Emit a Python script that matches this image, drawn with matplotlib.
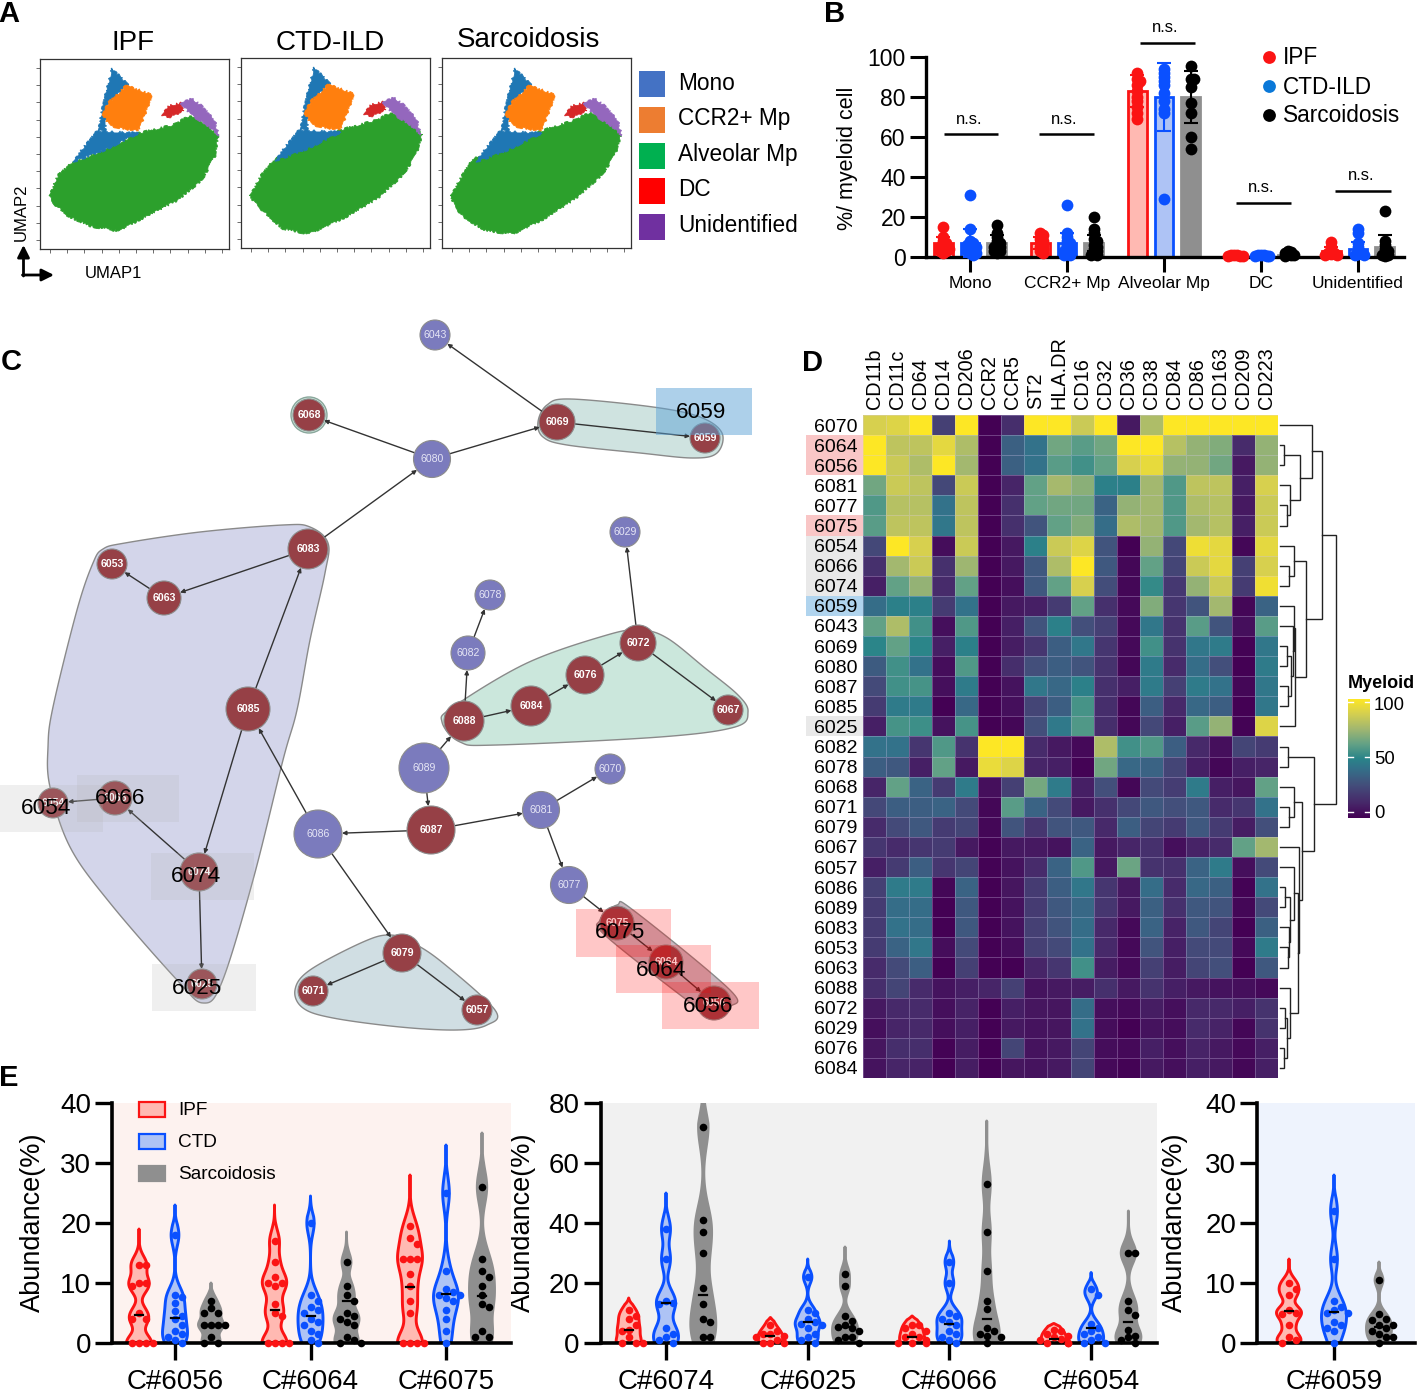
import numpy as np
import matplotlib
matplotlib.use("Agg")
import matplotlib.pyplot as plt
from matplotlib.colors import LinearSegmentedColormap
from matplotlib.patches import Polygon, Rectangle, Circle

plt.rcParams['font.family'] = ['Liberation Sans', 'DejaVu Sans']
W, H = 1418, 1395
fig = plt.figure(figsize=(W / 100, H / 100), dpi=100, facecolor='white')


def px_axes(x0, y0, x1, y1, **kw):
    return fig.add_axes([x0 / W, 1 - y1 / H, (x1 - x0) / W, (y1 - y0) / H], **kw)


# ---------------------------------------------------------------- data: panel A
umap_titles = ['IPF', 'CTD-ILD', 'Sarcoidosis']
umap_green = [
    [(9, 137), (18, 116), (33, 103), (65, 91), (99, 74), (133, 66), (151, 56), (167, 66), (178, 77), (175, 97),
     (162, 121), (138, 141), (107, 157), (78, 172), (49, 167), (28, 157), (13, 144)],
    [(9, 137), (21, 116), (34, 101), (68, 87), (99, 72), (136, 62), (151, 54), (170, 64), (181, 77), (175, 97),
     (162, 117), (136, 141), (105, 159), (68, 176), (42, 171), (26, 157), (13, 144)],
    [(9, 137), (21, 116), (31, 101), (65, 87), (102, 72), (133, 62), (149, 54), (170, 64), (179, 77), (173, 97),
     (160, 117), (133, 141), (102, 161), (71, 176), (44, 173), (21, 159), (12, 147)],
]
umap_mono_low = [(33, 103), (39, 94), (57, 72), (99, 74), (65, 91)]
umap_mono_up = [(58, 72), (63, 46), (72, 9), (88, 26), (68, 44), (65, 72)]
umap_ccr2 = [(87, 26), (112, 36), (101, 67), (97, 72), (70, 67), (63, 56), (68, 44)]
umap_dc = [(122, 56), (128, 47), (141, 44), (143, 52), (128, 59)]
umap_unid = [(141, 44), (151, 39), (162, 47), (175, 62), (179, 77), (167, 66), (151, 56)]
umap_legend = ['Mono', 'CCR2+ Mp', 'Alveolar Mp', 'DC', 'Unidentified']
umap_legend_cols = ['#4472c4', '#ed7d31', '#00b050', '#ff0000', '#7030a0']

# ---------------------------------------------------------------- data: panel B
b_cats = ['Mono', 'CCR2+ Mp', 'Alveolar Mp', 'DC', 'Unidentified']
b_series = ['IPF', 'CTD-ILD', 'Sarcoidosis']
b_means = [[7, 7, 83, 1, 3], [7, 7, 80, 1, 4], [7, 7, 80, 1, 5]]
b_errs = [[3, 3, 8, .3, 2], [7, 5, 17, .3, 3.5], [4, 4, 13, .6, 6]]
b_pts_ipf = [[15, 10, 8, 7, 6, 5, 5, 4, 4, 3, 3, 2], [12, 11, 9, 8, 7, 6, 5, 4, 3, 2],
             [92, 89, 88, 86, 83, 80, 78, 75, 72, 69], [1, 1, .8, .7, .5, .5], [7.5, 5, 3, 2, 2, 1.5, 1, 1]]
b_pts_ctd = [[31, 14, 8, 7, 6, 6, 5, 5, 4, 3, 3, 2, 2, 1], [26, 12, 10, 8, 7, 6, 5, 4, 3, 3, 2, 1, 1],
             [94, 92, 90, 88, 86, 82, 78, 74, 72, 29], [1, 1, .8, .6, .5, .4], [14, 12, 7, 5, 3, 2, 1.5, 1, 1]]
b_pts_sar = [[16, 12, 10, 8, 7, 6, 5, 5, 4, 3, 3, 2], [20, 14, 12, 9, 8, 6, 5, 4, 3, 2, 1, 1],
             [95.5, 89, 89, 85, 77, 72, 60, 54], [3, 2.5, 2, 1.5, 1, .8, .5], [23, 8, 6, 4, 3, 2, 1, 1, .5]]

# ---------------------------------------------------------------- data: panel C
node_ids = ['6043', '6068', '6069', '6059', '6080', '6083', '6053', '6063', '6029', '6078', '6082', '6072', '6076',
            '6084', '6067', '6088', '6085', '6089', '6070', '6081', '6087', '6086', '6066', '6054', '6074', '6077',
            '6079', '6075', '6064', '6056', '6071', '6057', '6025']
node_x = [435, 309, 557, 705, 432, 308, 112, 164, 625, 490, 468, 638, 585, 531, 728, 464, 248, 424, 610, 541, 431, 318,
          115, 53, 199, 569, 402, 617, 666, 714, 313, 477, 202]
node_y = [335, 415, 422, 438, 459, 549, 564, 598, 532, 595, 653, 643, 675, 706, 710, 721, 709, 768, 769, 810, 830, 834,
          798, 803, 872, 885, 953, 923, 962, 1003, 991, 1010, 984]
node_r = [15, 16, 18, 15, 18.5, 20, 15, 17, 15, 15, 17, 18, 19, 20, 15, 20, 22, 25, 15, 18.5, 24, 24, 17, 15, 19, 18.5,
          19, 17, 17, 17, 15, 15, 15]
blue_nodes = ['6043', '6080', '6029', '6078', '6082', '6089', '6070', '6081', '6086', '6077']
edges = [('6069', '6043'), ('6080', '6068'), ('6080', '6069'), ('6069', '6059'), ('6083', '6080'), ('6063', '6053'),
         ('6083', '6063'), ('6085', '6083'), ('6085', '6074'), ('6074', '6066'), ('6066', '6054'), ('6074', '6025'),
         ('6086', '6085'), ('6087', '6086'), ('6089', '6087'), ('6089', '6088'), ('6087', '6081'), ('6081', '6070'),
         ('6081', '6077'), ('6077', '6075'), ('6075', '6064'), ('6064', '6056'), ('6086', '6079'), ('6079', '6071'),
         ('6079', '6057'), ('6088', '6082'), ('6082', '6078'), ('6088', '6084'), ('6084', '6076'), ('6076', '6072'),
         ('6072', '6029'), ('6072', '6067')]
hull_purple = [(93, 563), (103, 549), (125, 543), (200, 532), (283, 525), (310, 527), (328, 543), (325, 573),
               (310, 640), (297, 710), (283, 760), (253, 880), (222, 982), (203, 1003), (177, 980), (110, 903),
               (70, 847), (50, 787), (48, 747), (53, 707), (77, 610)]
hull_teal = [(538, 422), (547, 405), (570, 399), (653, 407), (700, 417), (722, 433), (717, 453), (693, 458),
             (640, 453), (567, 445), (543, 437)]
hull_green = [(453, 707), (527, 663), (607, 635), (640, 630), (667, 638), (705, 668), (738, 695), (748, 712),
              (735, 727), (660, 737), (497, 745), (460, 742), (442, 722)]
hull_slate = [(295, 990), (310, 970), (363, 942), (390, 935), (413, 943), (443, 963), (495, 1010), (487, 1025),
              (457, 1030), (400, 1027), (333, 1018), (303, 1008)]
hull_red = [(600, 920), (617, 905), (633, 910), (730, 990), (730, 1007), (715, 1018), (700, 1010), (607, 937)]
hi_labels = ['6059', '6075', '6064', '6056', '6054', '6066', '6074', '6025']
hi_kind = ['b', 'r', 'r', 'r', 'g', 'g', 'g', 'g']
hi_boxes = [(656, 388, 752, 435), (576, 909, 671, 957), (616, 945, 711, 993), (662, 982, 759, 1029),
            (0, 785, 103, 832), (77, 775, 179, 822), (151, 853, 254, 900), (152, 964, 256, 1011)]
hi_text_xy = [(701, 412), (620, 933), (661, 970), (708, 1006), (46, 809), (120, 799), (196, 877), (197, 988)]

# ---------------------------------------------------------------- data: panel D
markers = ['CD11b', 'CD11c', 'CD64', 'CD14', 'CD206', 'CCR2', 'CCR5', 'ST2', 'HLA.DR', 'CD16', 'CD32', 'CD36', 'CD38',
           'CD84', 'CD86', 'CD163', 'CD209', 'CD223']
clusters = ['6070', '6064', '6056', '6081', '6077', '6075', '6054', '6066', '6074', '6059', '6043', '6069', '6080',
            '6087', '6085', '6025', '6082', '6078', '6068', '6071', '6079', '6067', '6057', '6086', '6089', '6083',
            '6053', '6063', '6088', '6072', '6029', '6076', '6084']
heat = [
    [88, 90, 100, 22, 100, 0, 15, 100, 100, 85, 100, 8, 78, 100, 100, 100, 100, 100],
    [100, 82, 82, 92, 78, 0, 35, 42, 65, 60, 65, 100, 100, 80, 72, 68, 14, 72],
    [100, 85, 78, 100, 75, 0, 35, 42, 60, 55, 62, 88, 93, 72, 72, 65, 8, 72],
    [65, 85, 82, 25, 85, 0, 12, 62, 76, 70, 48, 48, 75, 58, 82, 82, 10, 88],
    [58, 80, 80, 42, 82, 0, 16, 62, 65, 65, 36, 72, 75, 58, 78, 80, 8, 85],
    [60, 82, 82, 44, 82, 0, 16, 30, 62, 68, 40, 78, 75, 58, 75, 80, 10, 85],
    [25, 100, 88, 4, 85, 0, 8, 48, 85, 90, 30, 0, 72, 25, 95, 92, 2, 92],
    [16, 75, 85, 16, 74, 0, 8, 32, 78, 100, 32, 2, 62, 24, 85, 92, 22, 88],
    [10, 62, 72, 14, 62, 0, 5, 32, 62, 88, 27, 2, 52, 19, 72, 85, 20, 96],
    [40, 48, 48, 20, 42, 0, 8, 10, 20, 62, 16, 3, 68, 18, 30, 75, 2, 36],
    [62, 78, 55, 5, 58, 0, 10, 30, 48, 28, 22, 3, 44, 17, 60, 30, 5, 60],
    [50, 62, 50, 10, 48, 0, 9, 18, 34, 44, 18, 3, 55, 17, 44, 46, 1, 44],
    [33, 55, 42, 4, 58, 0, 15, 28, 34, 30, 17, 2, 46, 14, 40, 28, 0, 46],
    [26, 55, 56, 5, 46, 0, 6, 44, 38, 48, 16, 10, 46, 22, 46, 42, 2, 44],
    [20, 46, 46, 0, 38, 0, 5, 24, 34, 56, 15, 2, 34, 13, 38, 34, 0, 44],
    [10, 56, 54, 6, 56, 0, 2, 28, 45, 58, 15, 2, 25, 10, 60, 72, 1, 90],
    [42, 42, 18, 58, 17, 100, 100, 14, 8, 3, 78, 55, 58, 34, 13, 5, 24, 20],
    [34, 32, 10, 62, 8, 94, 90, 12, 10, 1, 65, 38, 36, 24, 10, 2, 10, 12],
    [12, 62, 36, 20, 46, 5, 22, 66, 46, 10, 28, 2, 26, 21, 46, 10, 7, 62],
    [25, 34, 34, 36, 26, 2, 60, 36, 26, 8, 16, 25, 32, 28, 32, 14, 18, 42],
    [14, 26, 32, 20, 24, 2, 30, 18, 30, 32, 13, 34, 24, 20, 32, 20, 9, 28],
    [18, 14, 18, 20, 8, 1, 8, 8, 6, 36, 8, 12, 16, 5, 11, 14, 62, 75],
    [10, 20, 34, 18, 24, 1, 6, 14, 36, 58, 8, 64, 17, 16, 36, 46, 5, 26],
    [22, 46, 46, 2, 36, 0, 7, 20, 34, 44, 18, 8, 40, 14, 38, 35, 1, 42],
    [20, 40, 40, 0, 32, 0, 6, 20, 32, 38, 18, 8, 35, 16, 32, 30, 2, 26],
    [20, 42, 40, 0, 32, 0, 6, 22, 30, 40, 13, 3, 36, 11, 32, 24, 0, 35],
    [20, 36, 44, 4, 26, 0, 4, 22, 26, 42, 13, 3, 30, 10, 26, 26, 3, 46],
    [14, 26, 34, 0, 22, 0, 0, 12, 18, 55, 9, 3, 22, 9, 24, 28, 0, 32],
    [15, 24, 14, 6, 10, 12, 22, 6, 8, 9, 16, 8, 17, 10, 8, 6, 5, 3],
    [8, 13, 14, 5, 11, 0, 10, 7, 7, 40, 5, 3, 9, 5, 13, 13, 10, 17],
    [5, 12, 13, 5, 10, 0, 8, 6, 7, 42, 4, 0, 6, 4, 14, 11, 2, 17],
    [7, 15, 15, 1, 9, 0, 24, 6, 8, 24, 4, 3, 10, 5, 11, 8, 3, 10],
    [6, 12, 11, 0, 9, 0, 7, 6, 8, 24, 3, 1, 8, 5, 10, 8, 2, 10],
]
row_hi_pink = ['6064', '6056', '6075']
row_hi_grey = ['6054', '6066', '6074', '6025']
row_hi_blue = ['6059']
# dendrogram: (left child, right child, merge position in figure pixels)
tree_a = ('6070', (('6064', '6056', 1284), ('6081', ('6077', '6075', 1287), 1290), 1300), 1312)
tree_b = (('6054', ('6066', '6074', 1289), 1293.5),
          (('6059', ('6043', (('6069', '6080', 1287), ('6087', '6085', 1288), 1291), 1293), 1293.5), '6025', 1295),
          1306)
tree_c = (('6082', '6078', 1288),
          (('6068', ('6071', '6079', 1289), 1294),
           ('6067',
            (('6057', (('6086', '6089', 1285), ('6083', ('6053', '6063', 1288), 1289), 1290), 1293.5),
             ('6088', (('6072', '6029', 1285), ('6076', '6084', 1284), 1287), 1290), 1297.5), 1299), 1302),
          1314)
tree = ((tree_a, tree_b, 1321.5), tree_c, 1336)
heat_cmap = LinearSegmentedColormap.from_list('myeloid', [
    (0.0, '#440154'), (0.13, '#47296a'), (0.28, '#434f7b'), (0.42, '#33728a'), (0.5, '#2a8589'),
    (0.62, '#62a186'), (0.75, '#a2b770'), (0.88, '#d6d04f'), (1.0, '#fde725')])

# ---------------------------------------------------------------- data: panel E
e_groups_1 = ['C#6056', 'C#6064', 'C#6075']
e_groups_2 = ['C#6074', 'C#6025', 'C#6066', 'C#6054']
e_groups_3 = ['C#6059']
e_legend = ['IPF', 'CTD', 'Sarcoidosis']
e1_ipf = [[13, 13, 10, 10, 9.5, 5, 4, 4, 0, 0, 0, 0], [17, 13.5, 11, 10, 10, 9.5, 6.5, 5, 4.5, 0, 0, 0, 0],
          [19.5, 17.5, 16.5, 14, 14, 14, 11.5, 9.5, 7, 5, 0, 0, 0, 0]]
e1_ctd = [[18, 8, 7.7, 6.7, 5.3, 4.5, 4, 3, 2, 1.5, 1, .5, 0], [20, 8, 7, 6, 5.5, 5, 4, 3.5, 3, 2, 1.5, .5, 0],
          [25, 12, 9, 8.5, 8, 8, 7.5, 7, 5.5, 4, 2, 0]]
e1_sar = [[7, 5.8, 5, 5, 3, 3, 3, 3, 1, 0, 0], [13.5, 9.5, 8, 7, 5, 4.5, 4, 3.5, 3, 1, .5, 0, 0],
          [26, 14, 12, 11, 9.5, 8, 6.5, 6, 2, 1, 1]]
e1_tops = [[19, 23, 10], [23, 24.5, 18.5], [28, 33, 35]]
e1_meds = [[4.7, 4.1, 3], [5.5, 4.5, 7], [9.3, 8.2, 7.9]]
e2_ipf = [[11, 9, 8, 6, 4.5, 4, 2, 0, 0, 0], [6, 4, 3, 3, 2.5, 2, 1, 0, 0, 0], [6, 6, 5, 4, 3, 2, 2, 1, 0, 0, 0],
          [4.5, 4, 3, 2.5, 2, 1.5, 1, 0, 0, 0]]
e2_ctd = [[38, 28, 14, 13.5, 13, 5, 3, 2, 1, 0], [22, 11, 10, 8, 7, 6.5, 6, 5, 3, 2, 1, 0],
          [27, 20, 10, 9, 8, 7, 6, 4, 3, 2, 1, 0], [18, 16, 6.5, 5, 4, 3, 2, 1, 0, 0]]
e2_sar = [[72, 41, 37, 30, 18.5, 13, 8, 7, 2, 2], [23, 19, 9, 7.5, 6, 5.5, 5, 4, 2, 2, 1, 0],
          [53, 37, 24, 14, 11.5, 5, 4, 3, 2.5, 2, 0], [30, 30, 14, 11, 9.5, 4.5, 2.5, 2, 1, 0]]
e2_tops = [[15, 50, 85], [8.5, 28, 32], [9, 34, 74], [6.5, 23.5, 44]]
e2_meds = [[4.5, 13.5, 16], [2.5, 7, 5.5], [2, 6.5, 8], [1.5, 5, 7]]
e3_ipf = [[10, 9, 8, 5.5, 5, 4.8, 3, 1, .5, 0]]
e3_ctd = [[22, 14, 7, 6, 5.5, 5, 5, 3.5, 3, 2.5, 2, 0]]
e3_sar = [[10.5, 4.8, 4, 3.8, 3, 3, 2.5, 2, 1.5, 1, 1, 0]]
e3_tops = [[14, 28, 13.5]]
e3_meds = [[5.3, 5.2, 2.7]]

RED, BLUE, GREY = '#fb1414', '#0a50ff', '#8f8f8f'
RED_F, BLUE_F = '#ffb9b2', '#aec3f5'


# ---------------------------------------------------------------- helpers
def swarm(values, px_per_val, min_dist, step):
    placed, out = [], []
    for v in values:
        y = v * px_per_val
        for k in range(0, 40):
            off = step * ((k + 1) // 2) * (1 if k % 2 else -1)
            if all((off - a) ** 2 + (y - b) ** 2 >= min_dist ** 2 for a, b in placed):
                break
        placed.append((off, y))
        out.append(off)
    return np.array(out)


def smooth_closed(points, n=14):
    p = np.array(points, float)
    res = []
    m = len(p)
    for i in range(m):
        p0, p1, p2, p3 = p[(i - 1) % m], p[i], p[(i + 1) % m], p[(i + 2) % m]
        for t in np.linspace(0, 1, n, endpoint=False):
            res.append(0.5 * (2 * p1 + (p2 - p0) * t + (2 * p0 - 5 * p1 + 4 * p2 - p3) * t ** 2 +
                              (3 * p1 - p0 - 3 * p2 + p3) * t ** 3))
    return np.array(res)


# ---------------------------------------------------------------- page overlay (pixel space)
pg = px_axes(0, 0, W, H)
pg.set_xlim(0, W)
pg.set_ylim(H, 0)
pg.axis('off')
pg.set_zorder(0)

for txt, x, y in [('A', 9, 14), ('B', 835, 14), ('C', 11, 362), ('D', 812, 363), ('E', 9, 1078)]:
    pg.text(x, y, txt, fontsize=21, fontweight='bold', ha='center', va='center')

# ---------------------------------------------------------------- panel A
boxes = [(40, 59, 229, 249), (241, 58, 430, 248), (442, 58, 631, 248)]
offs = [(0, 0), (1, 0), (1, 1)]
title_xy = [(133, 43), (330, 43), (528, 40)]
for i, b in enumerate(boxes):
    ax = px_axes(*b)
    ax.set_xlim(0, 189)
    ax.set_ylim(190, 0)
    dx, dy = offs[i]
    parts = [(umap_green[i], '#2ca02c', False), (umap_mono_low, '#1f77b4', True), (umap_mono_up, '#1f77b4', True),
             (umap_ccr2, '#ff7f0e', True), (umap_dc, '#d62728', True), (umap_unid, '#9467bd', True)]
    for pts, col, shift in parts:
        arr = np.array(pts, float) + (np.array([dx, dy]) if shift else 0)
        poly = Polygon(arr, closed=True, facecolor=col, edgecolor=col, lw=0.6)
        poly.set_sketch_params(scale=1.1, length=3, randomness=30)
        ax.add_patch(poly)
    ax.set_xticks(np.arange(10, 189, 17.2))
    ax.set_yticks(np.arange(9, 186, 17.2))
    ax.tick_params(length=3, width=0.6, color='#555555', labelleft=False, labelbottom=False)
    for s in ax.spines.values():
        s.set_linewidth(0.9)
        s.set_color('#333333')
    pg.text(*title_xy[i], umap_titles[i], fontsize=20, ha='center', va='center')

for i, (lab, col) in enumerate(zip(umap_legend, umap_legend_cols)):
    y0 = [71, 107, 143, 178, 214][i]
    pg.add_patch(Rectangle((639, y0), 26, 26, facecolor=col, edgecolor='none'))
    pg.text(678, y0 + 12, lab, fontsize=16.3, va='center', ha='left')
pg.text(21, 212, 'UMAP2', fontsize=12, rotation=90, ha='center', va='center')
pg.text(113, 274, 'UMAP1', fontsize=12, ha='center', va='center')
pg.annotate('', xy=(23.5, 245), xytext=(23.5, 276),
            arrowprops=dict(arrowstyle='-|>', color='black', lw=2, mutation_scale=18, shrinkA=0, shrinkB=0))
pg.annotate('', xy=(54, 275), xytext=(22.5, 275),
            arrowprops=dict(arrowstyle='-|>', color='black', lw=2, mutation_scale=18, shrinkA=0, shrinkB=0))

# ---------------------------------------------------------------- panel B
axb = px_axes(926, 57, 1404, 257)
axb.set_xlim(-0.454, 4.474)
axb.set_ylim(0, 100)
axb.patch.set_alpha(0)
bar_off = 0.275
bar_w = 0.19
pt_sets = [b_pts_ipf, b_pts_ctd, b_pts_sar]
faces = [RED_F, BLUE_F, GREY]
edgesc = [RED, BLUE, GREY]
dotc = [RED, BLUE, 'black']
for s in range(3):
    xs = np.arange(5) + (s - 1) * bar_off
    axb.bar(xs, b_means[s], width=bar_w, facecolor=faces[s], edgecolor=edgesc[s], lw=2.0, zorder=2)
    axb.errorbar(xs, b_means[s], yerr=b_errs[s], fmt='none', ecolor=dotc[s] if s < 2 else 'black', elinewidth=1.5,
                 capsize=5, capthick=1.5, zorder=3)
    for g in range(5):
        vals = sorted(pt_sets[s][g], reverse=True)
        off = swarm(vals, 2.0, 3.0, 3.0) / 97.0
        off = np.clip(off, -0.085, 0.085)
        axb.scatter(xs[g] + off, vals, s=72, color=dotc[s], zorder=4, lw=0, clip_on=False)
axb.spines[['top', 'right']].set_visible(False)
axb.spines['left'].set_linewidth(2.4)
axb.spines['bottom'].set_linewidth(2.4)
axb.set_yticks([0, 20, 40, 60, 80, 100])
axb.set_xticks(range(5), b_cats)
axb.tick_params(axis='y', length=11.5, width=2.2, labelsize=16.5, pad=3)
axb.tick_params(axis='x', length=11, width=2.2, labelsize=12.5, pad=3)
pg.text(847, 158, '%/ myeloid cell', fontsize=15.5, rotation=90, ha='center', va='center')
ns_pos = [(944, 998, 134), (1039, 1094, 134), (1139.5, 1195, 43), (1236, 1291, 203), (1335, 1391, 191)]
for x0, x1, y in ns_pos:
    pg.plot([x0, x1], [y, y], color='black', lw=1.8, solid_capstyle='butt')
    pg.text((x0 + x1) / 2 - 2, y - 15, 'n.s.', fontsize=12, ha='center', va='center')
for i, (lab, col) in enumerate(zip(b_series, ['#fb1414', '#0a78d8', 'black'])):
    y = [57, 86, 115][i]
    pg.scatter([1269], [y], s=85, color=col, lw=0)
    pg.text(1283, y + 1, lab, fontsize=16.3, va='center', ha='left')

# ---------------------------------------------------------------- panel C
hulls = [(hull_purple, '#d3d5ea'), (hull_teal, '#cfe3e0'), (hull_green, '#cbe7dc'), (hull_slate, '#d0dee3'),
         (hull_red, '#c9b7c0')]
for pts, col in hulls:
    pg.add_patch(Polygon(smooth_closed(pts), closed=True, facecolor=col, edgecolor='#8a8a8a', lw=1.0, zorder=1))
pos = {n: (x, y, r) for n, x, y, r in zip(node_ids, node_x, node_y, node_r)}
pg.add_patch(Circle(pos['6068'][:2], 18, facecolor='#cbe7dc', edgecolor='#8aa79c', lw=1, zorder=1))
for a, b in edges:
    xa, ya, ra = pos[a]
    xb, yb, rb = pos[b]
    pg.annotate('', xy=(xb, yb), xytext=(xa, ya), zorder=2,
                arrowprops=dict(arrowstyle='-|>', color='#333333', lw=1.0, mutation_scale=6,
                                shrinkA=ra * 0.72, shrinkB=rb * 0.72))
for n in node_ids:
    x, y, r = pos[n]
    isb = n in blue_nodes
    pg.add_patch(Circle((x, y), r, facecolor='#7b7bbd' if isb else '#964046', edgecolor='#8c8c8c', lw=0.8, zorder=3))
    pg.text(x, y, n, color='#e6e6f5' if isb else 'white', fontsize=7.6, fontweight='normal' if isb else 'bold',
            ha='center', va='center', zorder=4)
hi_face = {'b': (0.36, 0.64, 0.84, 0.5), 'r': (1, 0, 0, 0.22), 'g': (0.7, 0.7, 0.7, 0.2)}
for lab, k, b, t in zip(hi_labels, hi_kind, hi_boxes, hi_text_xy):
    pg.add_patch(Rectangle((b[0], b[1]), b[2] - b[0], b[3] - b[1], facecolor=hi_face[k], edgecolor='none', zorder=5))
    pg.text(t[0], t[1], lab, fontsize=16.2, color='black', ha='center', va='center', zorder=6)

# ---------------------------------------------------------------- panel D
axd = px_axes(863, 415, 1278, 1078)
axd.pcolormesh(np.array(heat, float), cmap=heat_cmap, vmin=0, vmax=100, edgecolors=(0.85, 0.8, 0.95, 0.3),
               linewidth=0.5)
axd.set_ylim(len(clusters), 0)
axd.set_xlim(0, len(markers))
axd.set_xticks(np.arange(len(markers)) + 0.5, markers, rotation=90, fontsize=14.3)
axd.set_yticks(np.arange(len(clusters)) + 0.5, clusters, fontsize=14)
axd.xaxis.tick_top()
axd.tick_params(length=0, pad=4)
axd.tick_params(axis='y', pad=4)
for s in axd.spines.values():
    s.set_visible(False)
rh = 663 / len(clusters)
for names, col in [(row_hi_pink, '#f9c6c6'), (row_hi_grey, '#e9e9e9'), (row_hi_blue, '#b0d4ee')]:
    for n in names:
        pg.add_patch(Rectangle((806, 415 + clusters.index(n) * rh), 57, rh, facecolor=col, edgecolor='none'))


def draw_tree(node):
    if isinstance(node, str):
        return 1280.0, 415 + (clusters.index(node) + 0.5) * rh
    xa, ya = draw_tree(node[0])
    xb, yb = draw_tree(node[1])
    xm = node[2]
    pg.plot([xa, xm, xm, xb], [ya, ya, yb, yb], color='#222222', lw=1.0, solid_joinstyle='miter')
    return xm, (ya + yb) / 2


draw_tree(tree)

axc = px_axes(1348, 699, 1370, 818)
axc.imshow(np.linspace(100, 0, 256).reshape(-1, 1), cmap=heat_cmap, vmin=0, vmax=100, aspect='auto',
           extent=[0, 1, -5, 103])
axc.set_xlim(0, 1)
axc.set_ylim(-5, 103)
axc.axis('off')
for v in [0, 50, 100]:
    axc.plot([0, 0.22], [v, v], color='white', lw=1)
    axc.plot([0.78, 1], [v, v], color='white', lw=1)
for lab, y in [('100', 705), ('50', 759), ('0', 814)]:
    pg.text(1374, y, lab, fontsize=13.3, ha='left', va='center')
pg.text(1348, 684, 'Myeloid', fontsize=13, fontweight='bold', ha='left', va='center')


# ---------------------------------------------------------------- panel E
def violin_panel(box, group0_px, spacing, off_px, ymax, yticks, groups, sets, tops, meds, bg, ylab_x):
    x0, x1 = box
    axe = px_axes(x0, 1103, x1, 1343)
    axe.set_facecolor(bg)
    axe.set_xlim((x0 - group0_px) / spacing, (x1 - group0_px) / spacing)
    axe.set_ylim(0, ymax)
    px_val = 240.0 / ymax
    for g in range(len(groups)):
        for s in range(3):
            vals = np.array(sets[s][g], float)
            cx = g + (s - 1) * off_px / spacing
            top = tops[g][s]
            grid = np.linspace(0, top, 300)
            bw = max(0.065 * top, 0.9 * ymax / 40)
            dens = np.exp(-0.5 * ((grid[:, None] - vals[None, :]) / bw) ** 2).sum(axis=1)
            taper = np.clip((top - grid) / (0.14 * top), 0, 1)
            w = (dens / dens.max()) ** 0.7 * 12.5 * taper ** 0.7 / spacing
            xp = np.r_[cx - w, (cx + w)[::-1]]
            yp = np.r_[grid, grid[::-1]]
            col_f = [RED_F, BLUE_F, GREY][s]
            col_e = [RED, BLUE, GREY][s]
            axe.fill(xp, yp, facecolor=col_f, edgecolor=col_e, lw=2.1, zorder=2, joinstyle='round')
            svals = sorted(vals, reverse=True)
            off = swarm(svals, px_val, 7.0, 7.0) / spacing
            off = np.clip(off, -14 / spacing, 14 / spacing)
            dc = [RED, BLUE, 'black'][s]
            axe.scatter(cx + off, svals, s=30, color=dc, lw=0, zorder=3, clip_on=False)
            axe.plot([cx - 4 / spacing, cx + 4 / spacing], [meds[g][s]] * 2, color='black', lw=1.6, zorder=4)
    axe.spines[['top', 'right']].set_visible(False)
    axe.spines['left'].set_linewidth(2.6)
    axe.spines['bottom'].set_linewidth(2.6)
    axe.set_yticks(yticks)
    axe.set_xticks(range(len(groups)), groups)
    axe.tick_params(axis='y', length=12, width=2.4, labelsize=20, pad=3)
    axe.tick_params(axis='x', length=12, width=2.4, labelsize=20, pad=7)
    pg.text(ylab_x, 1222, 'Abundance(%)', fontsize=19.5, rotation=90, ha='center', va='center')
    return axe


ax1 = violin_panel((112, 511), 175, 135.5, 36, 40, [0, 10, 20, 30, 40], e_groups_1, [e1_ipf, e1_ctd, e1_sar], e1_tops,
                   e1_meds, '#fdf2ef', 33)
ax2 = violin_panel((600.5, 1157), 666, 141.7, 37.3, 80, [0, 20, 40, 60, 80], e_groups_2, [e2_ipf, e2_ctd, e2_sar],
                   e2_tops, e2_meds, '#f1f1f1', 523)
ax3 = violin_panel((1257, 1415), 1334, 141.7, 45, 40, [0, 10, 20, 30, 40], e_groups_3, [e3_ipf, e3_ctd, e3_sar],
                   e3_tops, e3_meds, '#eef3fd', 1175)

ely = [1102, 1134, 1166]
for lab, fc, ec, y in zip(e_legend, [RED_F, BLUE_F, GREY], [RED, BLUE, GREY], ely):
    fig.patches.append(Rectangle((139 / W, 1 - (y + 15) / H), 26 / W, 15 / H, transform=fig.transFigure,
                                 facecolor=fc, edgecolor=ec, lw=1.6, zorder=10))
    fig.text(178 / W, 1 - (y + 8.5) / H, lab, fontsize=13.7, va='center', ha='left', zorder=10)

fig.savefig('out.png', dpi=100)
